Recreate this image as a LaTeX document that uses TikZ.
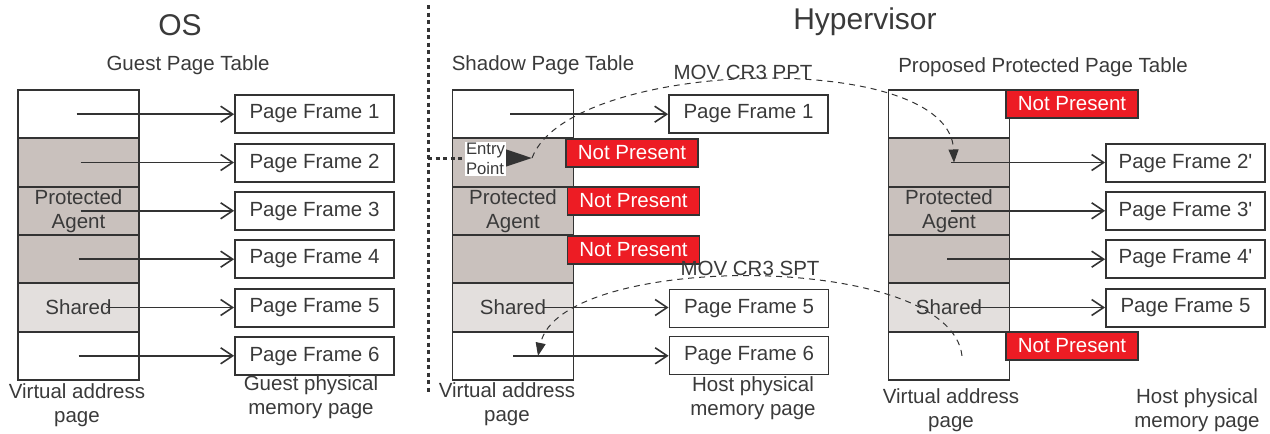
\documentclass[tikz,border=0pt]{standalone}
\usepackage{fontspec}
\newfontfamily\lib{Liberation Sans}
\usetikzlibrary{arrows.meta}
\definecolor{txt}{HTML}{3A3A3A}
\definecolor{ln}{HTML}{333333}
\definecolor{pgray}{HTML}{C9C1BD}
\definecolor{sgray}{HTML}{E3DFDD}
\definecolor{npred}{HTML}{ED1C24}
\begin{document}
\begin{tikzpicture}[x=1pt,y=-1pt,
  every node/.style={font=\lib\fontsize{20.5}{24}\selectfont, text=txt},
  row/.style={draw=ln, line width=1.8pt, minimum width=121pt, minimum height=48.33pt, inner sep=0pt, align=center, fill=white},
  prot/.style={row, fill=pgray},
  shar/.style={row, fill=sgray},
  pframe/.style={draw=ln, line width=1.8pt, fill=white, minimum width=159pt, minimum height=38pt, inner sep=0pt},
  np/.style={draw=ln, line width=1.5pt, fill=npred, text=white, minimum width=132pt, minimum height=28pt, inner sep=0pt},
  map/.style={draw=ln, line width=1.6pt, -{Straight Barb[length=12pt,width=16pt,line width=1.6pt]}},
  jump/.style={draw=ln, line width=1pt, dash pattern=on 6pt off 5pt, -{Triangle[length=13pt,width=10pt]}},
  divider/.style={draw=ln, line width=3pt, dash pattern=on 4pt off 3.5pt},
  entryline/.style={draw=ln, line width=3pt, dash pattern=on 4pt off 3.5pt, -{Triangle[length=27pt,width=17pt]}},
  entrybox/.style={fill=white, inner sep=1pt, align=left, font=\lib\fontsize{16.7}{20}\selectfont},
  title/.style={font=\lib\fontsize{30}{34}\selectfont},
  lbl/.style={align=center}
]
\useasboundingbox (0,0) rectangle (1270,434);

% titles
\node[title] (tos) at (180,25) {OS};
\node[title] (thv) at (865,22) {Hypervisor};
\node (lgpt) at (188,65) {Guest Page Table};
\node (lspt) at (543,65) {Shadow Page Table};
\node (lppt) at (1043,67) {Proposed Protected Page Table};

% divider
\coordinate (dtop) at (428,5);
\coordinate (dbot) at (428,392);
\coordinate (dv) at (428,158);
\draw[divider] (dtop) -- (dbot);

% OS table
\node[row]  (o1) at (78.5,114.2) {};
\node[prot] (o2) at (78.5,162.5) {};
\node[prot] (o3) at (78.5,210.8) {Protected\\Agent};
\node[prot] (o4) at (78.5,259.2) {};
\node[shar] (o5) at (78.5,307.5) {Shared};
\node[row]  (o6) at (78.5,355.8) {};
\node[pframe] (of1) at (314.5,114) {Page Frame 1};
\node[pframe] (of2) at (314.5,163) {Page Frame 2};
\node[pframe] (of3) at (314.5,211) {Page Frame 3};
\node[pframe] (of4) at (314.5,259) {Page Frame 4};
\node[pframe] (of5) at (314.5,308) {Page Frame 5};
\node[pframe] (of6) at (314.5,356) {Page Frame 6};
\draw[map] ([xshift=-2pt]o1.center) -- (o1.center -| of1.west);
\draw[map] ([xshift=2pt]o2.center) -- (o2.center -| of2.west);
\draw[map] ([xshift=2pt]o3.center) -- (o3.center -| of3.west);
\draw[map] (o4.center) -- (o4.center -| of4.west);
\draw[map] ([xshift=27pt]o5.center) -- (o5.center -| of5.west);
\draw[map] (o6.center) -- (o6.center -| of6.west);
\node[lbl] (ova) at (77,405) {Virtual address\\page};
\node[lbl] (ogp) at (311,397.5) {Guest physical\\memory page};

% Shadow table
\node[row]  (s1) at (513,114.2) {};
\node[prot] (s2) at (513,162.5) {};
\node[prot] (s3) at (513,210.8) {Protected\\Agent};
\node[prot] (s4) at (513,259.2) {};
\node[shar] (s5) at (513,307.5) {Shared};
\node[row]  (s6) at (513,355.8) {};
\node[pframe] (sf1) at (748.5,114) {Page Frame 1};
\node[pframe] (sf5) at (749,308.5) {Page Frame 5};
\node[pframe] (sf6) at (749,355.5) {Page Frame 6};
\node[np] (sn2) at (632,153) {Not Present};
\node[np] (sn3) at (633.5,201) {Not Present};
\node[np] (sn4) at (633.5,250) {Not Present};
\draw[map] ([xshift=-3pt]s1.center) -- (s1.center -| sf1.west);
\draw[map] ([xshift=30pt]s5.center) -- (s5.center -| sf5.west);
\draw[map] (s6.center) -- (s6.center -| sf6.west);
\node[lbl] (sva) at (507,404.5) {Virtual address\\page};
\node[lbl] (shp) at (753,398.5) {Host physical\\memory page};

% Entry point
\coordinate (ep) at (532,158);
\draw[entryline] (dv) -- (ep);
\node[entrybox] (entry) at (485.5,159) {Entry\\Point};

% PPT table
\node[row]  (p1) at (949,114.2) {};
\node[prot] (p2) at (949,162.5) {};
\node[prot] (p3) at (949,210.8) {Protected\\Agent};
\node[prot] (p4) at (949,259.2) {};
\node[shar] (p5) at (949,307.5) {Shared};
\node[row]  (p6) at (949,355.8) {};
\node[pframe] (pf2) at (1185.5,163) {Page Frame 2'};
\node[pframe] (pf3) at (1185.5,211) {Page Frame 3'};
\node[pframe] (pf4) at (1185.5,259) {Page Frame 4'};
\node[pframe] (pf5) at (1185.5,308) {Page Frame 5};
\node[np] (pn1) at (1072,104) {Not Present};
\node[np] (pn6) at (1072,346) {Not Present};
\draw[map] ([xshift=2pt]p2.center) -- (p2.center -| pf2.west);
\draw[map] ([xshift=2pt]p3.center) -- (p3.center -| pf3.west);
\draw[map] ([xshift=-2pt]p4.center) -- (p4.center -| pf4.west);
\draw[map] ([xshift=22pt]p5.center) -- (p5.center -| pf5.west);
\node[lbl] (pva) at (951,410.5) {Virtual address\\page};
\node[lbl] (php) at (1197,410.5) {Host physical\\memory page};

% MOV CR3 jumps
\draw[jump] (ep) .. controls (570,58) and (950,48) .. ([xshift=5pt]p2.center);
\draw[jump] ([xshift=13pt]p6.center) .. controls (950,250) and (560,252) .. ([xshift=25pt]s6.center);
\node (movppt) at (743,72) {MOV CR3 PPT};
\node (movspt) at (750,268) {MOV CR3 SPT};
\end{tikzpicture}
\end{document}
